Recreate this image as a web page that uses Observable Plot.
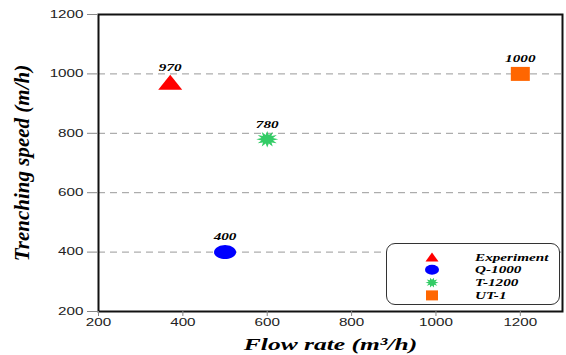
<!DOCTYPE html>
<html><head><meta charset="utf-8">
<script src="https://cdn.jsdelivr.net/npm/d3@7"></script>
<script src="https://cdn.jsdelivr.net/npm/@observablehq/plot@0.6"></script>
<style>
body{margin:0;background:#fff;}
#wrap{position:relative;width:566px;height:355px;}
#legend{position:absolute;left:386px;top:243px;width:174px;height:62px;border:1.5px solid #333;border-radius:9px;box-sizing:border-box;background:#fff;}
#legend svg{position:absolute;left:0;top:0;}
</style></head>
<body><div id="wrap"><div id="legend"></div></div>
<script>
const names = ["Experiment", "Q-1000", "T-1200", "UT-1"];
const flowRate = [370, 500, 600, 1200];
const speed = [970, 400, 780, 1000];
const colors = ["#ff0000", "#0000ff", "#33cc66", "#ff6600"];
const xTicks = [200, 400, 600, 800, 1000, 1200];
const yTicks = [200, 400, 600, 800, 1000, 1200];
const gridTicks = [400, 600, 800, 1000];
const xTitle = "Flow rate (m³/h)";
const yTitle = "Trenching speed (m/h)";

const data = names.map((n, i) => ({name: n, x: flowRate[i], y: speed[i], color: colors[i]}));

// custom symbols
const tri = {draw(c){ c.moveTo(0,-8); c.lineTo(12,7); c.lineTo(-12,7); c.closePath(); }};
const ell = {draw(c){ const n=40; for(let k=0;k<n;k++){const a=2*Math.PI*k/n; const px=11*Math.cos(a), py=7*Math.sin(a); k?c.lineTo(px,py):c.moveTo(px,py);} c.closePath(); }};
const star = {draw(c){ const n=24; for(let k=0;k<n;k++){const a=2*Math.PI*k/n; const rr = k%2? 6:11; const px=rr*Math.cos(a), py=rr*0.75*Math.sin(a); k?c.lineTo(px,py):c.moveTo(px,py);} c.closePath(); }};
const sq = {draw(c){ c.rect(-9.5,-7,19,14); }};
const symbols = {"Experiment": tri, "Q-1000": ell, "T-1200": star, "UT-1": sq};

const serif = '"Liberation Serif","Times New Roman",serif';
const sans = '"Liberation Sans", Arial, sans-serif';

const chart = Plot.plot({
  width: 566, height: 355,
  marginLeft: 98, marginRight: 4, marginTop: 14, marginBottom: 44,
  style: {fontFamily: sans, fontSize: "10.5px", background: "#fff", color: "#000"},
  x: {domain: [200, 1300], label: null, axis: null},
  y: {domain: [200, 1200], label: null, axis: null},
  marks: [
    Plot.ruleY(gridTicks, {stroke: "#999", strokeWidth: 1, strokeDasharray: "7,5"}),
    Plot.frame({stroke: "#111", strokeWidth: 2}),
    Plot.axisX({ticks: xTicks, tickFormat: () => "", tickSize: 5, stroke: "#888", label: null}),
    Plot.axisY({ticks: yTicks, tickFormat: () => "", tickSize: 11, stroke: "#888", label: null}),
    Plot.text(xTicks, {x: d => d, frameAnchor: "bottom", dy: 14, text: d => String(d), fontFamily: sans, fontSize: 10.5, fill: "#222"}),
    Plot.text(yTicks, {y: d => d, frameAnchor: "left", dx: -15, textAnchor: "end", text: d => String(d), fontFamily: sans, fontSize: 10.5, fill: "#222"}),
    ...data.map(d => Plot.dot([d], {x: "x", y: "y", symbol: () => symbols[d.name], fill: d.color, stroke: "none", r: 5})),
    Plot.text(data, {x: "x", y: "y", text: d => String(d.y), dy: -15, fontFamily: serif, fontWeight: "bold", fontStyle: "italic", fontSize: 10.5, fill: "#000"}),
    Plot.text([xTitle], {frameAnchor: "bottom", dy: 38, text: d => d, textAnchor: "middle", fontFamily: serif, fontWeight: "bold", fontStyle: "italic", fontSize: 17, fill: "#000"}),
    Plot.text([yTitle], {frameAnchor: "left", dx: -76, rotate: -90, textAnchor: "middle", text: d => d, fontFamily: serif, fontWeight: "bold", fontStyle: "italic", fontSize: 21, fill: "#000"})
  ]
});
document.getElementById("wrap").prepend(chart);

// horizontal stretch of texts to mimic the reference's aspect (scale about anchor point)
function stretchText(el, k) {
  let t = el.getAttribute("transform") || "";
  const x = el.getAttribute("x");
  if (x != null && isFinite(+x)) {
    t = `translate(${+x},0) ` + t;
    el.removeAttribute("x");
  }
  el.setAttribute("transform", (t + ` scale(${k},1)`).trim());
}
const tickStrings = new Set([...xTicks, ...yTicks, ...speed].map(String));
d3.select(chart).selectAll("text").each(function() {
  const s = this.textContent.trim();
  if (tickStrings.has(s)) stretchText(this, 1.45);
  else if (s === xTitle) stretchText(this, 1.5);
});

// legend
const legSvg = d3.select("#legend").append("svg").attr("width", 172).attr("height", 60);
data.forEach((d, i) => {
  const cy = 13 + i * 12.8, cx = 45;
  const g = legSvg.append("g").attr("transform", `translate(${cx},${cy})`);
  if (d.name === "Experiment") g.append("path").attr("d", "M0,-4.5 L6.5,4.5 L-6.5,4.5 Z").attr("fill", d.color);
  if (d.name === "Q-1000") g.append("ellipse").attr("rx", 7).attr("ry", 5).attr("fill", d.color);
  if (d.name === "T-1200") {
    const p = d3.path(); const n = 20;
    for (let k = 0; k < n; k++) { const a = 2*Math.PI*k/n; const rr = k%2 ? 3.5 : 6.5; const px = rr*Math.cos(a), py = rr*0.8*Math.sin(a); k ? p.lineTo(px, py) : p.moveTo(px, py); }
    p.closePath();
    g.append("path").attr("d", p.toString()).attr("fill", d.color);
  }
  if (d.name === "UT-1") g.append("rect").attr("x", -6).attr("y", -5).attr("width", 12).attr("height", 10).attr("fill", d.color);
  legSvg.append("text")
    .attr("transform", `translate(88,${cy}) scale(1.45,1)`).attr("dy", "0.35em")
    .attr("font-family", serif).attr("font-weight", "bold").attr("font-style", "italic").attr("font-size", 10.5)
    .text(d.name);
});
</script>
</body></html>
